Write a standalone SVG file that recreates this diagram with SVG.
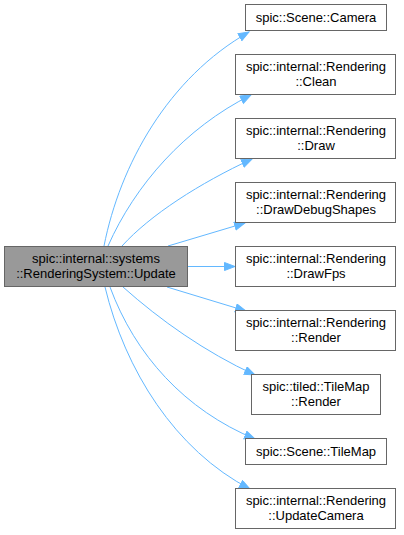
<svg xmlns="http://www.w3.org/2000/svg" width="404" height="535" viewBox="0 0 404 535">
<defs>
<style>
.node rect{fill:#ffffff;stroke:#666666;stroke-width:1}
#main rect{fill:#999999}
text{font-family:"Liberation Sans",Arial,sans-serif;font-size:13px;fill:#000000;text-anchor:middle}
.edges path{fill:none;stroke:#63b8ff;stroke-width:1;marker-end:url(#arrow)}
</style>
<marker id="arrow" markerUnits="userSpaceOnUse" markerWidth="13" markerHeight="10" refX="11" refY="4.5" orient="auto">
<path d="M0.5,0.5 L11,4.5 L0.5,8.5 Z" fill="#63b8ff" stroke="#63b8ff" stroke-width="1"/>
</marker>
</defs>
<rect width="404" height="535" fill="#ffffff"/>
<g class="edges" id="edges">
<path d="M104,246 C120,165 168,78 249,32"/>
<path d="M108,246 C135,185 185,128 251,95"/>
<path d="M122,246 C150,215 200,183 252,159"/>
<path d="M168,246 L245,223"/>
<path d="M188,266.5 L235,266.5"/>
<path d="M167,287 L246,311"/>
<path d="M123,287 C160,320 205,352 255,375"/>
<path d="M110,287 C135,355 185,410 255,439"/>
<path d="M105,287 C125,370 175,450 250,489"/>
</g>
<g class="node" id="main">
<rect x="4.5" y="246.5" width="183" height="40"/>
<text x="96" y="263">spic::internal::systems</text>
<text x="96" y="277.5">::RenderingSystem::Update</text>
</g>
<g class="node" id="n_camera">
<rect x="245.5" y="4.5" width="141" height="26"/>
<text x="316" y="22">spic::Scene::Camera</text>
</g>
<g class="node" id="n_clean">
<rect x="235.5" y="54.5" width="160" height="40"/>
<text x="316" y="71">spic::internal::Rendering</text>
<text x="316" y="85.5">::Clean</text>
</g>
<g class="node" id="n_draw">
<rect x="235.5" y="118.5" width="160" height="40"/>
<text x="316" y="135">spic::internal::Rendering</text>
<text x="316" y="149.5">::Draw</text>
</g>
<g class="node" id="n_drawdebug">
<rect x="235.5" y="182.5" width="160" height="40"/>
<text x="316" y="199">spic::internal::Rendering</text>
<text x="316" y="213.5">::DrawDebugShapes</text>
</g>
<g class="node" id="n_drawfps">
<rect x="235.5" y="246.5" width="160" height="40"/>
<text x="316" y="263">spic::internal::Rendering</text>
<text x="316" y="277.5">::DrawFps</text>
</g>
<g class="node" id="n_render">
<rect x="235.5" y="310.5" width="160" height="40"/>
<text x="316" y="327">spic::internal::Rendering</text>
<text x="316" y="341.5">::Render</text>
</g>
<g class="node" id="n_tiledrender">
<rect x="251.5" y="374.5" width="129" height="40"/>
<text x="316" y="391">spic::tiled::TileMap</text>
<text x="316" y="405.5">::Render</text>
</g>
<g class="node" id="n_tilemap">
<rect x="245.5" y="438.5" width="141" height="26"/>
<text x="316" y="456">spic::Scene::TileMap</text>
</g>
<g class="node" id="n_updatecamera">
<rect x="235.5" y="488.5" width="160" height="40"/>
<text x="316" y="505">spic::internal::Rendering</text>
<text x="316" y="519.5">::UpdateCamera</text>
</g>
</svg>
